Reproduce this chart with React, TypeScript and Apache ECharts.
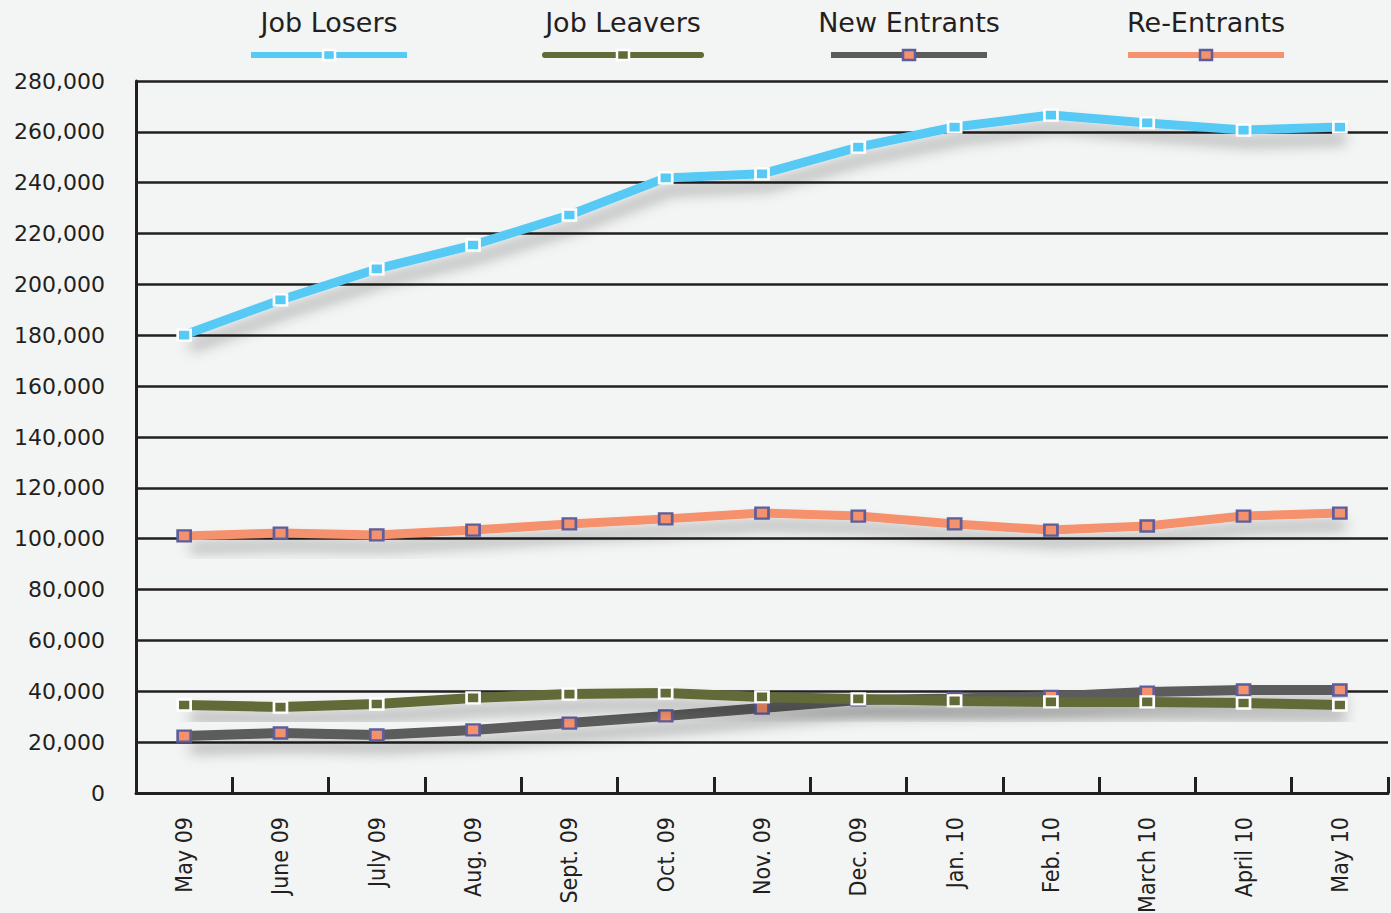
import React, { useEffect, useRef } from "react";
import * as echarts from "echarts";

const categories = ["May 09", "June 09", "July 09", "Aug. 09", "Sept. 09", "Oct. 09", "Nov. 09", "Dec. 09", "Jan. 10", "Feb. 10", "March 10", "April 10", "May 10"];
const jobLosers = [180100, 193900, 206100, 215500, 227300, 241900, 243500, 254000, 261900, 266600, 263500, 260700, 261900];
const jobLeavers = [34600, 33800, 35000, 37400, 38900, 39300, 37800, 37000, 36200, 35800, 35800, 35400, 34600];
const newEntrants = [22400, 23600, 22800, 24800, 27500, 30300, 33400, 36600, 37200, 38000, 39700, 40500, 40500];
const reEntrants = [101100, 102200, 101500, 103400, 105800, 107800, 110100, 108900, 105800, 103400, 105000, 108900, 110100];
const legendNames = ["Job Losers", "Job Leavers", "New Entrants", "Re-Entrants"];

const COLORS = {
  losers: "#56c9f5",
  leavers: "#626a37",
  newE: "#5b5b5d",
  reE: "#f5916c",
};
const ORANGE_FILL = "#f5916c";
const PURPLE = "#5d5e9c";

export default function App() {
  const ref = useRef<HTMLDivElement>(null);
  useEffect(() => {
    if (!ref.current) return;
    const chart = echarts.init(ref.current, null, { renderer: "svg" });
    const shadow = { shadowColor: "rgba(0,0,0,0.3)", shadowBlur: 14, shadowOffsetX: 6, shadowOffsetY: 12 };
    const mk = (name: string, data: number[], color: string, width: number, markFill: string, markBorder: string, z: number) => ({
      name,
      type: "line",
      data,
      z,
      symbol: "rect",
      symbolSize: [13, 11],
      showSymbol: true,
      lineStyle: { color, width, ...shadow },
      itemStyle: { color: markFill, borderColor: markBorder, borderWidth: 2.5 },
      emphasis: { disabled: true },
    });

    const legendCenters = [329, 623, 909, 1206];
    const legendStyle = [
      { line: COLORS.losers, fill: COLORS.losers, border: "#ffffff" },
      { line: COLORS.leavers, fill: COLORS.leavers, border: "#ffffff" },
      { line: COLORS.newE, fill: ORANGE_FILL, border: PURPLE },
      { line: COLORS.reE, fill: ORANGE_FILL, border: PURPLE },
    ];
    const graphics: any[] = [];
    legendNames.forEach((n, i) => {
      const cx = legendCenters[i];
      graphics.push({
        type: "text",
        x: cx,
        y: 22,
        style: { text: n, font: '27px "DejaVu Sans"', fill: "#231f20", align: "center", verticalAlign: "middle" },
      });
      graphics.push({
        type: "line",
        shape: { x1: cx - 78, y1: 55, x2: cx + 78, y2: 55 },
        style: { stroke: legendStyle[i].line, lineWidth: 6, lineCap: i === 1 ? "round" : "butt" },
      });
      graphics.push({
        type: "rect",
        shape: { x: cx - 6, y: 50, width: 12, height: 10 },
        style: { fill: legendStyle[i].fill, stroke: legendStyle[i].border, lineWidth: 2.5 },
      });
    });

    chart.setOption({
      animation: false,
      backgroundColor: "#f3f4f4",
      grid: { left: 136, top: 81, width: 1252, height: 712, containLabel: false, outerBoundsMode: "none" },
      xAxis: {
        type: "category",
        data: categories,
        boundaryGap: true,
        axisLine: { lineStyle: { color: "#231f20", width: 3 } },
        axisTick: { show: true, inside: true, length: 16, lineStyle: { color: "#231f20", width: 3 }, alignWithLabel: false },
        axisLabel: {
          rotate: 90,
          margin: 24,
          fontSize: 23,
          fontFamily: '"Liberation Sans Narrow", "DejaVu Sans Condensed", sans-serif',
          color: "#231f20",
          interval: 0,
        },
        splitLine: { show: false },
      },
      yAxis: {
        type: "value",
        min: 0,
        max: 280000,
        interval: 20000,
        axisLine: { show: true, lineStyle: { color: "#231f20", width: 3 } },
        axisTick: { show: false },
        axisLabel: {
          margin: 31,
          fontSize: 22,
          fontFamily: '"DejaVu Sans", sans-serif',
          color: "#231f20",
          formatter: (v: number) => v.toLocaleString("en-US"),
        },
        splitLine: { show: true, lineStyle: { color: "#231f20", width: 2.5 } },
      },
      series: [
        mk("New Entrants", newEntrants, COLORS.newE, 10, ORANGE_FILL, PURPLE, 2),
        mk("Job Leavers", jobLeavers, COLORS.leavers, 10, COLORS.leavers, "#ffffff", 3),
        mk("Re-Entrants", reEntrants, COLORS.reE, 9, ORANGE_FILL, PURPLE, 4),
        mk("Job Losers", jobLosers, COLORS.losers, 9, COLORS.losers, "#ffffff", 5),
      ],
      graphic: graphics,
    });
    return () => chart.dispose();
  }, []);
  return <div ref={ref} style={{ position: "fixed", left: 0, top: 0, width: 1391, height: 913 }} />;
}
